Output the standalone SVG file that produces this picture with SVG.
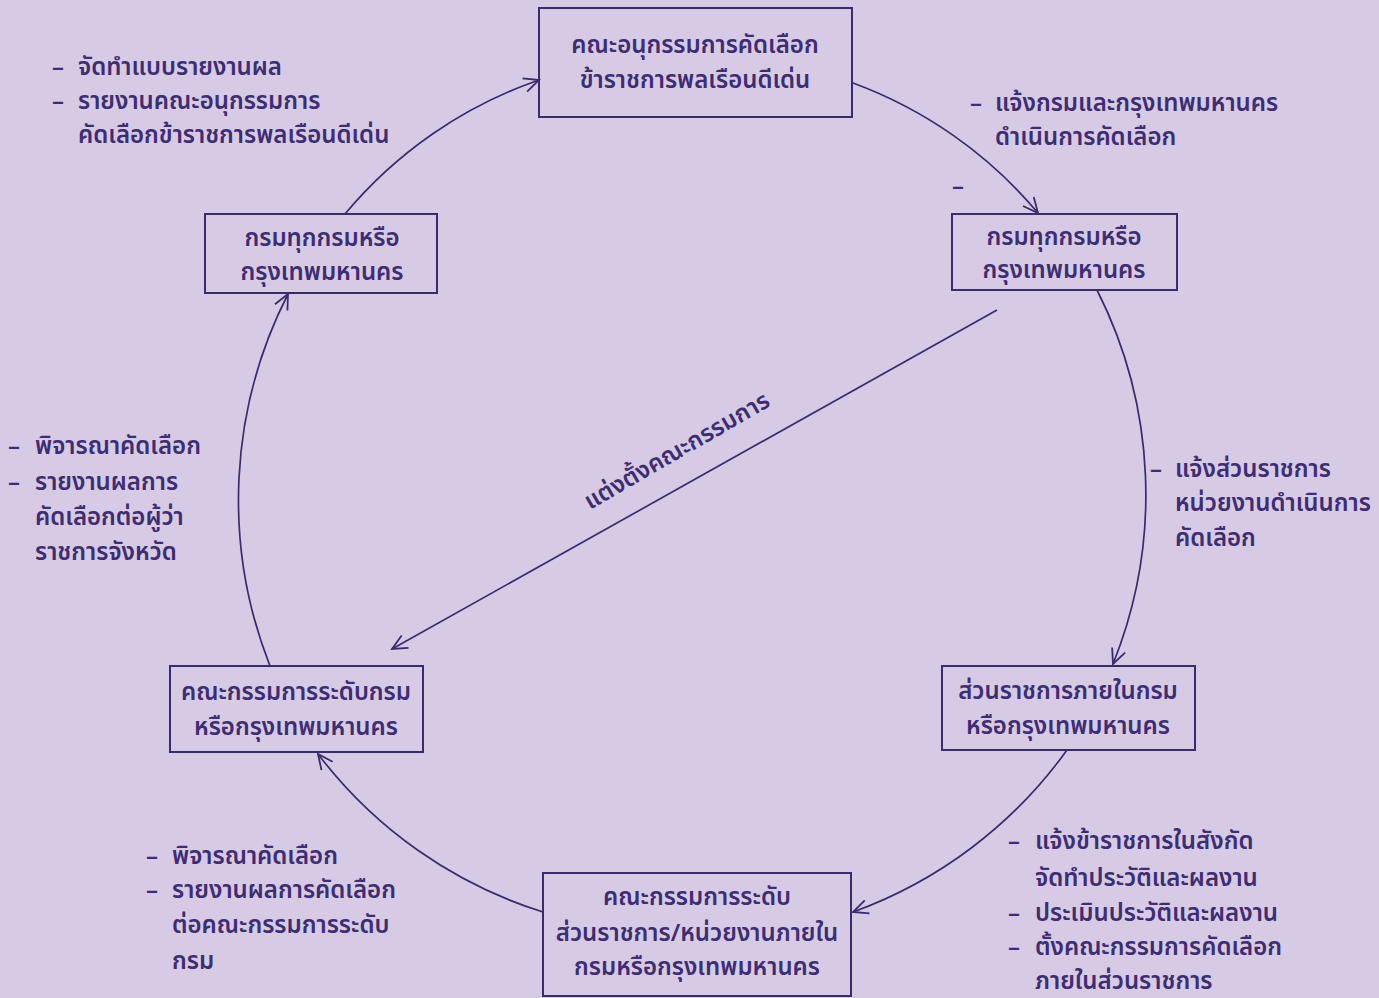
<svg xmlns="http://www.w3.org/2000/svg" width="1379" height="998" viewBox="0 0 1379 998">
<defs>
<marker id="arr" markerUnits="userSpaceOnUse" markerWidth="20" markerHeight="20" viewBox="0 0 20 20" refX="18" refY="10" orient="auto">
<path d="M3,3 L18,10 L3,17" fill="none" stroke="#3a2c6c" stroke-width="1.8"/>
</marker>
</defs>
<style>
.bg{fill:#d7cae4}
.box{fill:none;stroke:#3a2c6c;stroke-width:2}
.ln{fill:none;stroke:#3a2c6c;stroke-width:1.7}
text{font-family:"Noto Sans Thai","Noto Sans","DejaVu Sans",sans-serif;font-size:24px;font-weight:600;fill:#3d2d72}
.c{text-anchor:middle}
</style>
<rect class="bg" x="0" y="0" width="1379" height="998"/>
<g id="connectors">
<path class="ln" d="M345,214 A440,440 0 0,1 539,80" marker-end="url(#arr)"/>
<path class="ln" d="M853,83 A440,440 0 0,1 1038,213" marker-end="url(#arr)"/>
<path class="ln" d="M1097,290 A453,453 0 0,1 1113,664" marker-end="url(#arr)"/>
<path class="ln" d="M1067,750 A453,453 0 0,1 853,912" marker-end="url(#arr)"/>
<path class="ln" d="M543,912 A452,452 0 0,1 318,754" marker-end="url(#arr)"/>
<path class="ln" d="M270,666 A453,453 0 0,1 288,294" marker-end="url(#arr)"/>
<path class="ln" d="M997,310 L392,649" marker-end="url(#arr)"/>
</g>
<g id="node-top">
<rect class="box" x="539" y="8" width="313" height="109"/>
<text class="c" x="695" y="53">คณะอนุกรรมการคัดเลือก</text>
<text class="c" x="695" y="88">ข้าราชการพลเรือนดีเด่น</text>
</g>
<g id="node-right-top">
<rect class="box" x="952" y="214" width="225" height="76"/>
<text class="c" x="1064" y="245">กรมทุกกรมหรือ</text>
<text class="c" x="1064" y="278">กรุงเทพมหานคร</text>
</g>
<g id="node-left-top">
<rect class="box" x="205" y="214" width="232" height="79"/>
<text class="c" x="322" y="246">กรมทุกกรมหรือ</text>
<text class="c" x="322" y="280">กรุงเทพมหานคร</text>
</g>
<g id="node-right-bottom">
<rect class="box" x="942" y="666" width="253" height="84"/>
<text class="c" x="1068" y="699">ส่วนราชการภายในกรม</text>
<text class="c" x="1068" y="734">หรือกรุงเทพมหานคร</text>
</g>
<g id="node-left-bottom">
<rect class="box" x="170" y="666" width="253" height="86"/>
<text class="c" x="296" y="700">คณะกรรมการระดับกรม</text>
<text class="c" x="296" y="735">หรือกรุงเทพมหานคร</text>
</g>
<g id="node-bottom">
<rect class="box" x="543" y="873" width="308" height="123"/>
<text class="c" x="697" y="905">คณะกรรมการระดับ</text>
<text class="c" x="697" y="941">ส่วนราชการ/หน่วยงานภายใน</text>
<text class="c" x="697" y="975">กรมหรือกรุงเทพมหานคร</text>
</g>
<g id="labels">
<text x="52" y="75">–</text><text x="78" y="75">จัดทำแบบรายงานผล</text>
<text x="52" y="109">–</text><text x="78" y="109">รายงานคณะอนุกรรมการ</text>
<text x="78" y="143">คัดเลือกข้าราชการพลเรือนดีเด่น</text>

<text x="970" y="111">–</text><text x="995" y="111">แจ้งกรมและกรุงเทพมหานคร</text>
<text x="995" y="145">ดำเนินการคัดเลือก</text>
<text x="952" y="194">–</text>

<text x="1150" y="477">–</text><text x="1175" y="477">แจ้งส่วนราชการ</text>
<text x="1175" y="511">หน่วยงานดำเนินการ</text>
<text x="1175" y="546">คัดเลือก</text>

<text x="8" y="454">–</text><text x="35" y="454">พิจารณาคัดเลือก</text>
<text x="8" y="490">–</text><text x="35" y="490">รายงานผลการ</text>
<text x="35" y="525">คัดเลือกต่อผู้ว่า</text>
<text x="35" y="560">ราชการจังหวัด</text>

<text x="1008" y="849">–</text><text x="1035" y="849">แจ้งข้าราชการในสังกัด</text>
<text x="1035" y="886">จัดทำประวัติและผลงาน</text>
<text x="1008" y="921">–</text><text x="1035" y="921">ประเมินประวัติและผลงาน</text>
<text x="1008" y="955">–</text><text x="1035" y="955">ตั้งคณะกรรมการคัดเลือก</text>
<text x="1035" y="989">ภายในส่วนราชการ</text>

<text x="146" y="864">–</text><text x="172" y="864">พิจารณาคัดเลือก</text>
<text x="146" y="898">–</text><text x="172" y="898">รายงานผลการคัดเลือก</text>
<text x="172" y="933">ต่อคณะกรรมการระดับ</text>
<text x="172" y="969">กรม</text>

<text transform="translate(590,510) rotate(-30)">แต่งตั้งคณะกรรมการ</text>
</g>
</svg>
